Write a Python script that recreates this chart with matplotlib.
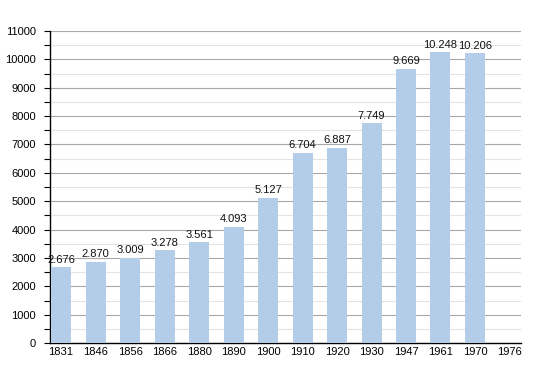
import numpy as np
import matplotlib
matplotlib.use("Agg")
import matplotlib.pyplot as plt

plt.rcParams["font.family"] = ["Liberation Sans", "DejaVu Sans"]

years = ["1831", "1846", "1856", "1866", "1880", "1890", "1900",
         "1910", "1920", "1930", "1947", "1961", "1970", "1976"]
population = [2676, 2870, 3009, 3278, 3561, 4093, 5127,
              6704, 6887, 7749, 9669, 10248, 10206, np.nan]

fig = plt.figure(figsize=(5.5, 3.73), dpi=100)
ax = fig.add_axes([0.091, 0.080, 0.856, 0.837])

x = np.arange(len(years))
vals = np.array(population, dtype=float)
ax.bar(x, np.nan_to_num(vals), width=0.58, color="#b3cde8", zorder=3)

# value labels, dot as thousands separator
for xi, v in zip(x, vals):
    if np.isnan(v):
        continue
    ax.text(xi, v + 90, f"{int(v):,}".replace(",", "."), ha="center", va="bottom",
            fontsize=8, color="#111111", zorder=4)

ax.set_xlim(-0.32, len(years) - 1 + 0.33)
ax.set_ylim(0, 11000)
ax.set_xticks(x)
ax.set_xticklabels(years, fontsize=8)
ax.set_yticks(np.arange(0, 11001, 1000))
ax.set_yticks(np.arange(500, 11000, 1000), minor=True)
ax.tick_params(axis="y", labelsize=8, length=4, width=0.8, which="both", pad=6)
ax.tick_params(axis="x", length=0, pad=3)

ax.grid(axis="y", which="major", color="#a8a8a8", linewidth=0.8, zorder=0)
ax.grid(axis="y", which="minor", color="#e4e4e4", linewidth=0.8, zorder=0)

for side in ["top", "right"]:
    ax.spines[side].set_visible(False)
ax.spines["left"].set_linewidth(1.0)
ax.spines["bottom"].set_linewidth(1.0)

fig.savefig("out.png", dpi=100)
